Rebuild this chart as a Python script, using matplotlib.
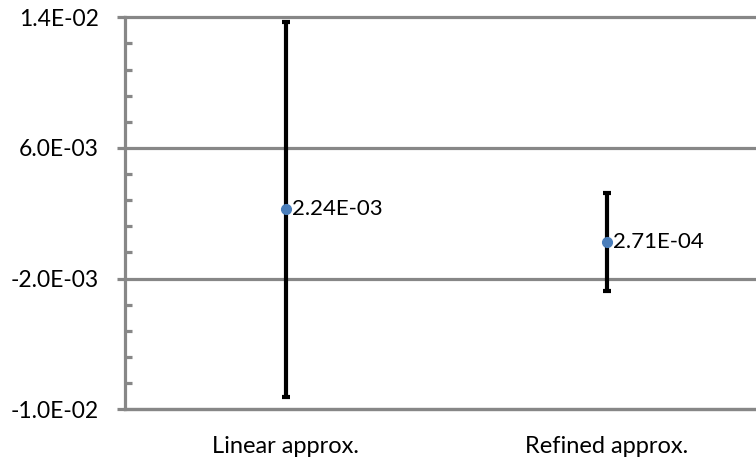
import matplotlib
matplotlib.use("Agg")
import matplotlib.pyplot as plt
from matplotlib.ticker import FixedLocator, FuncFormatter

# Estimated values with symmetric error ranges
categories = ["Linear approx.", "Refined approx."]
estimates = [2.24e-3, 2.71e-4]
errors = [0.0115, 0.0030]
y_ticks = [-0.010, -0.002, 0.006, 0.014]
y_minor = [-0.0084, -0.0068, -0.0052, -0.0036,
           -0.0004, 0.0012, 0.0028, 0.0044,
           0.0076, 0.0092, 0.0108, 0.0124]

plt.rcParams['font.family'] = ['Lato', 'DejaVu Sans']
GREY = "#878787"

fig = plt.figure(figsize=(7.56, 4.59), dpi=100)
ax = fig.add_axes([125 / 756, 49.7 / 459, 642 / 756, 392 / 459])

x = list(range(1, len(categories) + 1))
ax.errorbar(x, estimates, yerr=errors, fmt="none", ecolor="black",
            elinewidth=3, capsize=2.8, capthick=3, zorder=3)
ax.plot(x, estimates, "o", color="#4A7EBB", markersize=7, zorder=4)

for xi, v in zip(x, estimates):
    ax.annotate(f"{v:.2E}", (xi, v), xytext=(5, 0), textcoords="offset points",
                ha="left", va="center", fontsize=16, color="black", zorder=5)

ax.set_xlim(0.5, len(categories) + 0.5)
ax.set_ylim(y_ticks[0], y_ticks[-1])
ax.set_xticks(x)
ax.set_xticklabels(categories)
ax.yaxis.set_major_locator(FixedLocator(y_ticks))
ax.yaxis.set_minor_locator(FixedLocator(y_minor))
ax.yaxis.set_major_formatter(FuncFormatter(lambda v, p: f"{v:.1E}"))

ax.grid(axis="y", which="major", color=GREY, linewidth=2.3, zorder=1)
for gl in ax.get_ygridlines():
    gl.set_clip_on(False)
ax.set_axisbelow(True)

for side in ("top", "right"):
    ax.spines[side].set_visible(False)
for side in ("left", "bottom"):
    ax.spines[side].set_color(GREY)
    ax.spines[side].set_linewidth(2.3)

ax.tick_params(axis="y", which="major", direction="out", length=6, width=2.3,
               color=GREY, pad=13, labelsize=16.5)
ax.tick_params(axis="y", which="minor", direction="in", length=5, width=2.3,
               color=GREY)
ax.tick_params(axis="x", length=0, pad=19, labelsize=17)

fig.savefig("out.png", dpi=100)
